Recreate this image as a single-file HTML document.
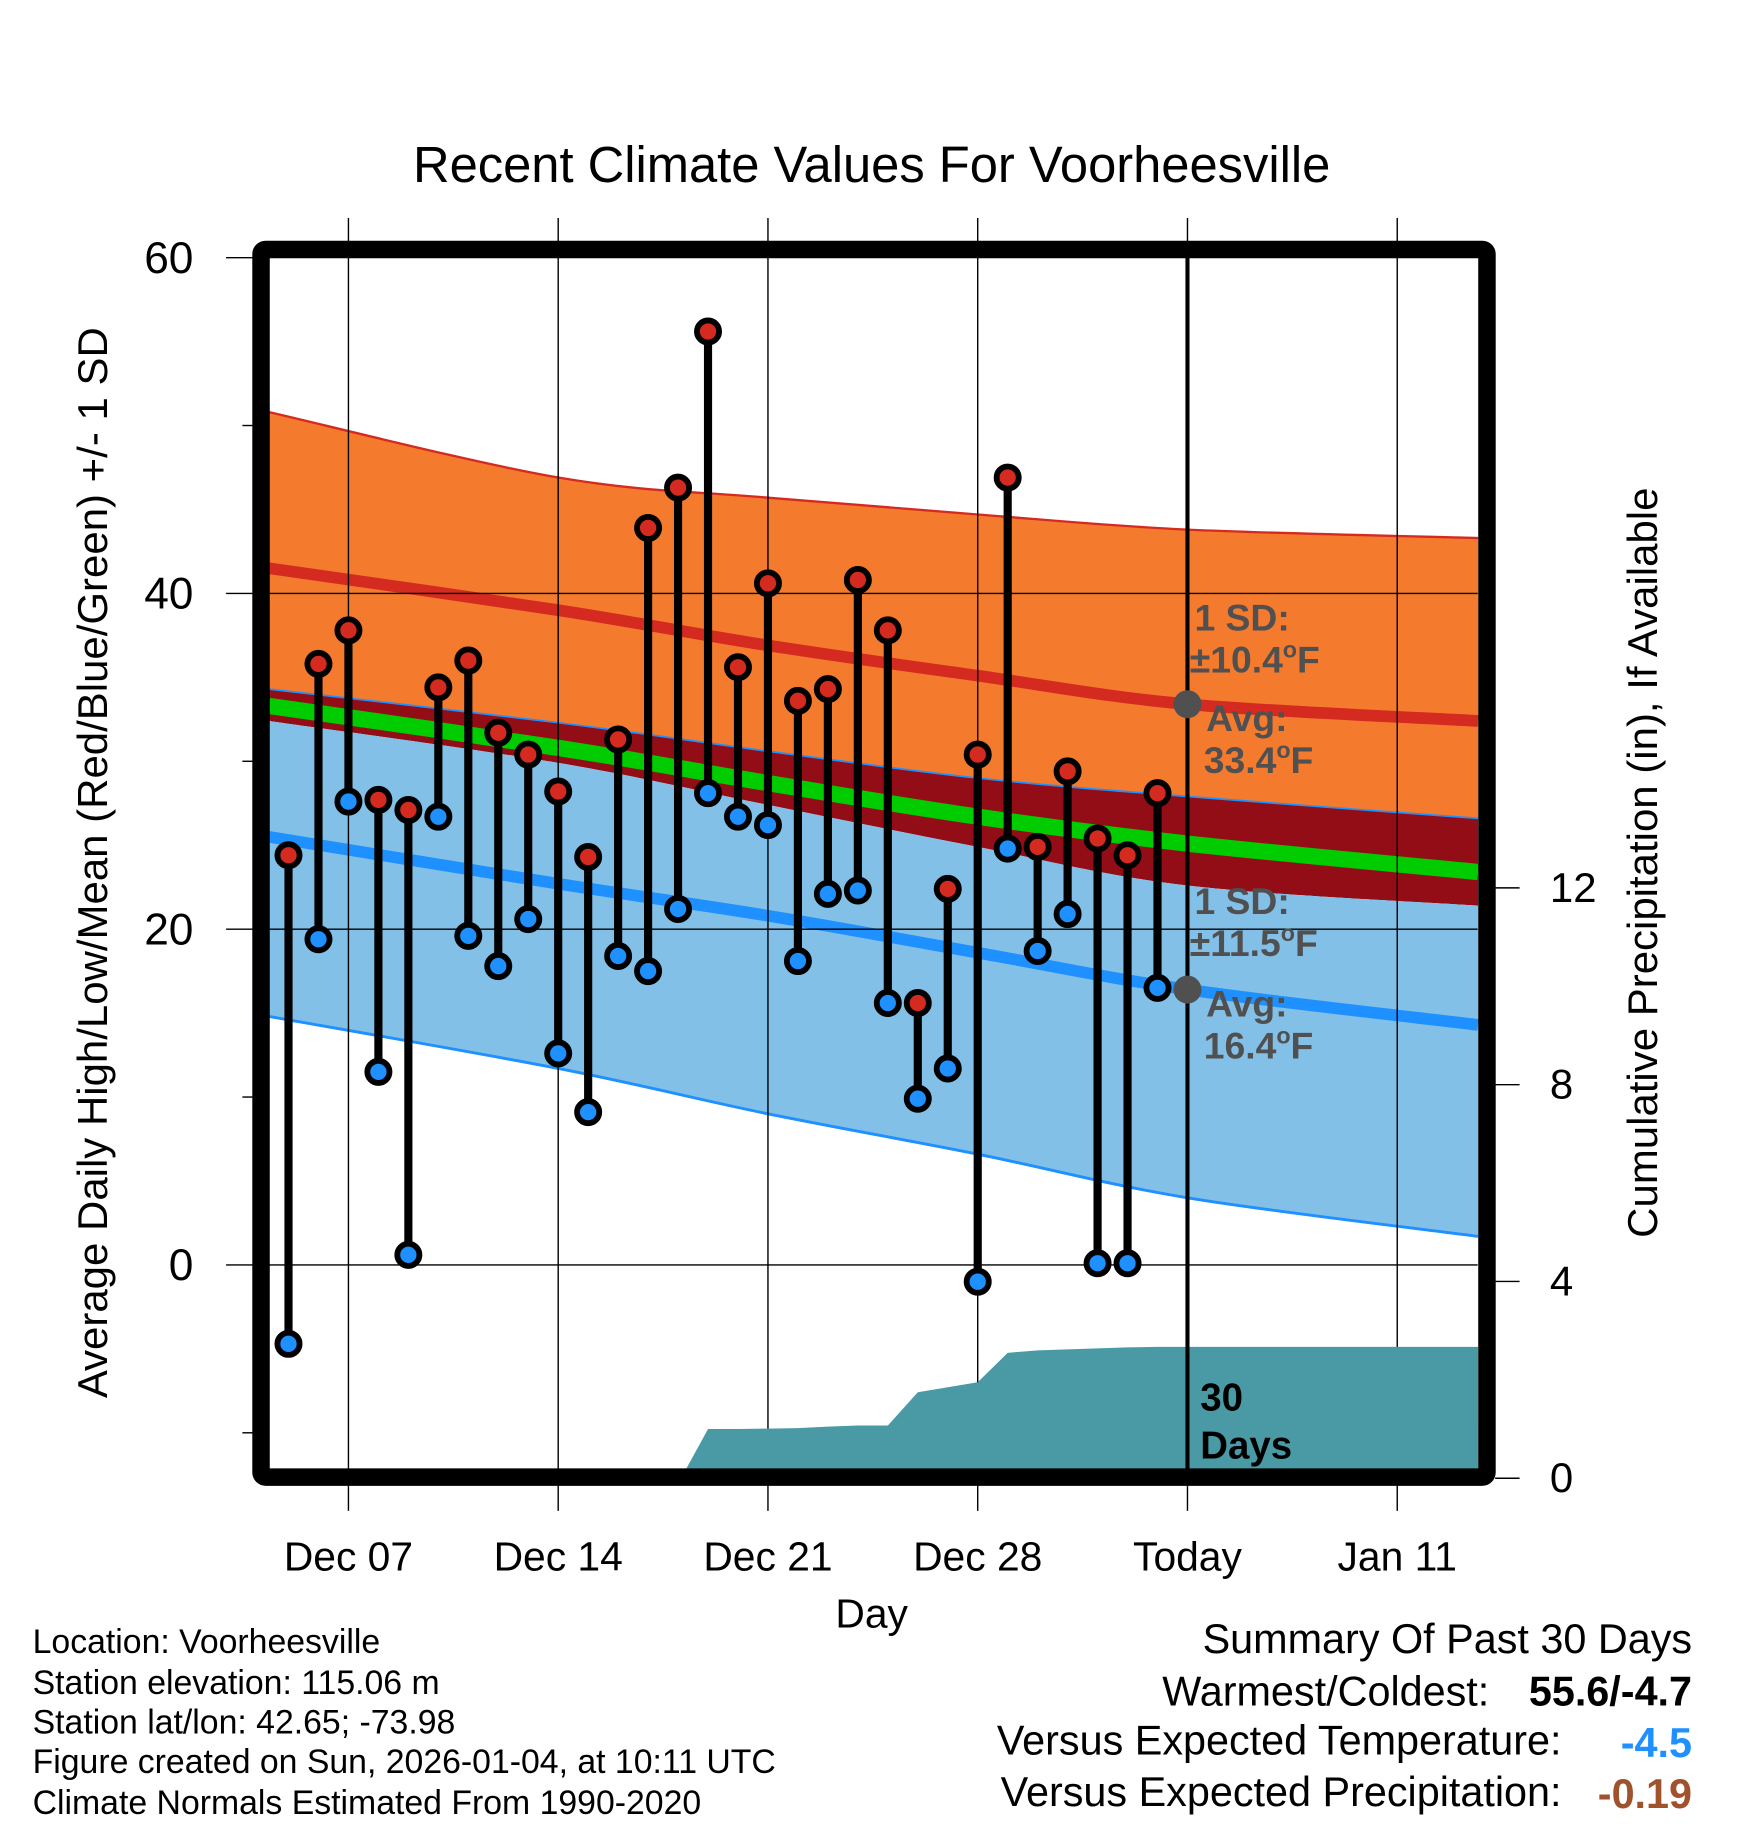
<!DOCTYPE html>
<html><head><meta charset="utf-8">
<style>
html,body{margin:0;padding:0;background:#fff;}
svg{display:block;font-family:"Liberation Sans",Arial,sans-serif;}
</style></head>
<body>
<svg id="chart" width="1748" height="1828" viewBox="0 0 1500 1568" preserveAspectRatio="none" xmlns="http://www.w3.org/2000/svg">
<g id="bands"></g>
<g id="grid"></g>
<g id="precip"></g>
<g id="marks"></g>
<g id="frame"></g>
<g id="axes"></g>
<text x="748" y="156" font-size="43.5" text-anchor="middle">Recent Climate Values For Voorheesville</text>
<text transform="translate(92,740) rotate(-90)" font-size="36" text-anchor="middle">Average Daily High/Low/Mean (Red/Blue/Green) +/- 1 SD</text>
<text transform="translate(1422,740) rotate(-90)" font-size="36" text-anchor="middle">Cumulative Precipitation (in), If Available</text>
<text x="748" y="1396" font-size="35" text-anchor="middle">Day</text>
<g font-size="32" font-weight="bold" fill="#505050">
<text x="1025" y="541">1 SD:</text>
<text x="1021" y="577">±10.4<tspan font-size="20" dy="-13">o</tspan><tspan dy="13">F</tspan></text>
<text x="1035" y="627">Avg:</text>
<text x="1033" y="663">33.4<tspan font-size="20" dy="-13">o</tspan><tspan dy="13">F</tspan></text>
<text x="1025" y="784">1 SD:</text>
<text x="1021" y="820">±11.5<tspan font-size="20" dy="-13">o</tspan><tspan dy="13">F</tspan></text>
<text x="1035" y="872">Avg:</text>
<text x="1033" y="908">16.4<tspan font-size="20" dy="-13">o</tspan><tspan dy="13">F</tspan></text>
</g>
<g font-size="29">
<text x="28" y="1418">Location: Voorheesville</text>
<text x="28" y="1453">Station elevation: 115.06 m</text>
<text x="28" y="1487">Station lat/lon: 42.65; -73.98</text>
<text x="28" y="1521">Figure created on Sun, 2026-01-04, at 10:11 UTC</text>
<text x="28" y="1556">Climate Normals Estimated From 1990-2020</text>
</g>
<g font-size="35.5" text-anchor="end">
<text x="1452" y="1418">Summary Of Past 30 Days</text>
<text x="1278" y="1463">Warmest/Coldest:</text>
<text x="1452" y="1463" font-weight="bold">55.6/-4.7</text>
<text x="1340" y="1505">Versus Expected Temperature:</text>
<text x="1452" y="1507" font-weight="bold" fill="#1e90ff">-4.5</text>
<text x="1340" y="1549">Versus Expected Precipitation:</text>
<text x="1452" y="1551" font-weight="bold" fill="#a0522d">-0.19</text>
</g>
</svg>
<script>
// ---- data ----
const tickLabelsX = ["Dec 07","Dec 14","Dec 21","Dec 28","Today","Jan 11"];
const tickDaysX = [0,7,14,21,28,35];
const tempTicks = [0,20,40,60];
const precipTicks = [0,4,8,12];
const obsDays = [-2,-1,0,1,2,3,4,5,6,7,8,9,10,11,12,13,14,15,16,17,18,19,20,21,22,23,24,25,26,27];
const highs = [24.4,35.8,37.8,27.7,27.1,34.4,36.0,31.7,30.4,28.2,24.3,31.3,43.9,46.3,55.6,35.6,40.6,33.6,34.3,40.8,37.8,15.6,22.4,30.4,46.9,24.9,29.4,25.4,24.4,28.1];
const lows = [-4.7,19.4,27.6,11.5,0.6,26.7,19.6,17.8,20.6,12.6,9.1,18.4,17.5,21.2,28.1,26.7,26.2,18.1,22.1,22.3,15.6,9.9,11.7,-1.0,24.8,18.7,20.9,0.1,0.1,16.5];
const normDays = [-2.65,7,14,21,28,37.7];
const highPlusSD = [50.8,46.9,45.7,44.7,43.8,43.3];
const highAvg = [41.5,39.0,36.9,35.1,33.4,32.4];
const highMinusSD = [34.3,32.3,30.6,29.0,27.9,26.6];
const meanAvg = [33.3,30.8,28.7,26.7,25.1,23.4];
const lowPlusSD = [32.4,29.9,27.4,24.9,22.6,21.4];
const lowAvg = [25.5,22.7,20.8,18.6,16.4,14.3];
const lowMinusSD = [14.8,11.7,9.0,6.6,4.0,1.7];
const precipDays = [-2.65,11,11.1,12,13,14,15,16,17,18,19,20,21,22,23,24,25,26,27,28,37.7];
const precipVals = [0,0,0,1.0,1.0,1.01,1.02,1.05,1.07,1.07,1.75,1.85,1.95,2.55,2.6,2.62,2.64,2.66,2.67,2.67,2.67];

// ---- scales ----
const X0=231,X1=1268,Y0=221,Y1=1260;
const xs = d => 299 + d*180/7;
const ys = t => 1085 - t*14.4;
const yp = p => 1268 - p*42.2;
const NS="http://www.w3.org/2000/svg";
function mk(tag,attrs,parent){const e=document.createElementNS(NS,tag);for(const k in attrs)e.setAttribute(k,attrs[k]);parent.appendChild(e);return e;}
function pts(arr){return normDays.map((d,i)=>[xs(d),ys(arr[i])]);}
function smooth(p,move){
  let s=(move?"M":"L")+p[0][0].toFixed(1)+","+p[0][1].toFixed(1);
  for(let i=0;i<p.length-1;i++){
    const p0=p[i-1]||p[i],p1=p[i],p2=p[i+1],p3=p[i+2]||p2;
    const c1=[p1[0]+(p2[0]-p0[0])/6,p1[1]+(p2[1]-p0[1])/6];
    const c2=[p2[0]-(p3[0]-p1[0])/6,p2[1]-(p3[1]-p1[1])/6];
    s+=" C"+c1.map(v=>v.toFixed(1))+" "+c2.map(v=>v.toFixed(1))+" "+p2.map(v=>v.toFixed(1));
  }
  return s;
}
function bandPath(top,bot){return smooth(pts(top),true)+" "+smooth(pts(bot).reverse(),false)+" Z";}

const bands=document.getElementById('bands');
let e;
e=mk('path',{d:bandPath(highPlusSD,highMinusSD),fill:'#f47a2e'},bands);


e=mk('path',{d:bandPath(highMinusSD,lowPlusSD),fill:'#930d16'},bands);


e=mk('path',{d:bandPath(lowPlusSD,lowMinusSD),fill:'#82c0e7'},bands);


const lines=[[highPlusSD,'#d42a20',2,'high-plus-sd-line'],[highMinusSD,'#1e90ff',1.5,'high-minus-sd-line'],[highAvg,'#d42a20',10,'high-avg-line'],[meanAvg,'#00cc00',14,'mean-avg-line'],[lowAvg,'#1e90ff',10,'low-avg-line'],[lowMinusSD,'#1e90ff',2.5,'low-minus-sd-line']];
lines.forEach(l=>{
  const p=mk('path',{d:smooth(pts(l[0]),true),fill:'none',stroke:l[1],'stroke-width':l[2]},bands);
  
  
});

// grid
const grid=document.getElementById('grid');
tickDaysX.forEach((d,i)=>{
  const g=mk('line',{x1:xs(d),x2:xs(d),y1:187,y2:1296,stroke:'#000','stroke-width':1.2},grid);
  
  
});
[0,20,40].forEach(t=>{
  const g=mk('line',{x1:X0,x2:X1,y1:ys(t),y2:ys(t),stroke:'#000','stroke-width':1.2},grid);
  
  
});

// precip
const pr=document.getElementById('precip');
let pp=precipDays.map((d,i)=>xs(d).toFixed(1)+","+yp(precipVals[i]).toFixed(1));
pp.push(xs(37.7)+","+yp(0),xs(-2.65)+","+yp(0));
e=mk('polygon',{points:pp.join(" "),fill:'#4a9aa5'},pr);



// today line & annotations
const mkG=document.getElementById('marks');
e=mk('line',{x1:xs(28),x2:xs(28),y1:Y0,y2:Y1,stroke:'#000','stroke-width':3.5},mkG);


e=mk('text',{x:1030,y:1210,'font-size':33,'font-weight':'bold'},mkG);e.textContent='30';


e=mk('text',{x:1030,y:1251,'font-size':33,'font-weight':'bold'},mkG);e.textContent='Days';


[highAvg[4],lowAvg[4]].forEach(v=>{
  const c=mk('circle',{cx:xs(28),cy:ys(v),r:12,fill:'#505050'},mkG);
  
  
});
obsDays.forEach((d,i)=>{
  const s=mk('line',{x1:xs(d),x2:xs(d),y1:ys(highs[i]),y2:ys(lows[i]),stroke:'#000','stroke-width':7},mkG);
  
  
});
obsDays.forEach((d,i)=>{
  const h=mk('circle',{cx:xs(d),cy:ys(highs[i]),r:9.5,fill:'#d42a20',stroke:'#000','stroke-width':5},mkG);
  
  
  const l=mk('circle',{cx:xs(d),cy:ys(lows[i]),r:9.5,fill:'#1e90ff',stroke:'#000','stroke-width':5},mkG);
  
  
});

// frame
const fr=document.getElementById('frame');
e=mk('rect',{x:224,y:214,width:1052,height:1053,rx:4,fill:'none',stroke:'#000','stroke-width':15},fr);



// axes
const ax=document.getElementById('axes');
tempTicks.forEach(t=>{
  const k=mk('line',{x1:194,x2:217,y1:ys(t),y2:ys(t),stroke:'#000','stroke-width':1.2},ax);
  
  
  const tx=mk('text',{x:166,y:ys(t)+13,'font-size':38,'text-anchor':'end'},ax);
  tx.textContent=t;
  
  
});
[-10,10,30,50].forEach(t=>{
  const k=mk('line',{x1:208,x2:217,y1:ys(t),y2:ys(t),stroke:'#000','stroke-width':1.2},ax);
  
  
});
precipTicks.forEach(p=>{
  const k=mk('line',{x1:1283,x2:1304,y1:yp(p),y2:yp(p),stroke:'#000','stroke-width':1.2},ax);
  
  
  const tx=mk('text',{x:1330,y:yp(p)+12,'font-size':36},ax);
  tx.textContent=p;
  
  
});
tickDaysX.forEach((d,i)=>{
  const tx=mk('text',{x:xs(d),y:1347,'font-size':35,'text-anchor':'middle'},ax);
  tx.textContent=tickLabelsX[i];
  
  
});
</script>
</body></html>
